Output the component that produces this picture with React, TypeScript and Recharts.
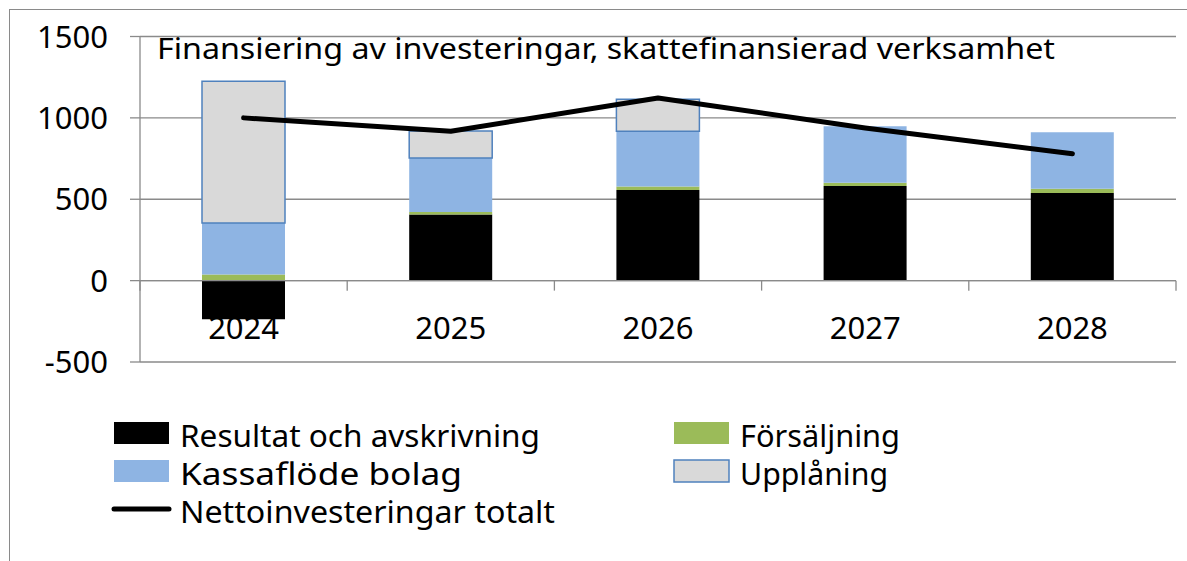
import React from "react";
import {
  ComposedChart,
  Bar,
  Line,
  XAxis,
  YAxis,
  CartesianGrid,
  ReferenceLine,
} from "recharts";

const categories = ["2024", "2025", "2026", "2027", "2028"];
const resultat = [-237, 406, 557, 582, 539];
const forsaljning = [37, 16, 21, 20, 26];
const kassaflode = [317, 331, 340, 347, 347];
const upplaning = [871, 167, 196, 0, 0];
const netto = [1000, 918, 1122, 938, 780];
const yTicks = [-500, 0, 500, 1000, 1500];

const data = categories.map((year, i) => ({
  year,
  resultat: resultat[i],
  forsaljning: forsaljning[i],
  kassaflode: kassaflode[i],
  upplaning: upplaning[i],
  netto: netto[i],
}));

const W = 1187;
const H = 561;
const PLOT_LEFT = 140;
const PLOT_RIGHT = 1176;
const PLOT_TOP = 36.5;
const PLOT_BOTTOM = 362;
const X_AXIS_H = 30;
const BAND = (PLOT_RIGHT - PLOT_LEFT) / categories.length;
const Y_MIN = yTicks[0];
const Y_MAX = yTicks[yTicks.length - 1];
const ZERO_Y = PLOT_TOP + (Y_MAX / (Y_MAX - Y_MIN)) * (PLOT_BOTTOM - PLOT_TOP);

const GRID = "#8a8a8a";
const FONT = "'Noto Sans', sans-serif";

function YearTick(props: any) {
  const { x, index } = props;
  const left = x - BAND / 2;
  const last = index === categories.length - 1;
  return (
    <g>
      <line x1={left} x2={left} y1={ZERO_Y} y2={ZERO_Y + 10} stroke={GRID} strokeWidth={1.3} />
      {last && (
        <line x1={x + BAND / 2} x2={x + BAND / 2} y1={ZERO_Y} y2={ZERO_Y + 10} stroke={GRID} strokeWidth={1.3} />
      )}
      <text x={x} y={ZERO_Y + 58} textAnchor="middle" fontSize={31} fill="#000" fontFamily={FONT}>
        {props.payload.value}
      </text>
    </g>
  );
}

// legend entries: text width matched to the original's narrower font
const legendItems = [
  { name: "Resultat och avskrivning", kind: "box", fill: "#000000", stroke: "none", col: 0, row: 0, len: 360 },
  { name: "Försäljning", kind: "box", fill: "#9BBB59", stroke: "none", col: 1, row: 0, len: 160 },
  { name: "Kassaflöde bolag", kind: "box", fill: "#8EB4E3", stroke: "none", col: 0, row: 1, len: 282 },
  { name: "Upplåning", kind: "box", fill: "#D9D9D9", stroke: "#4F81BD", col: 1, row: 1, len: 148 },
  { name: "Nettoinvesteringar totalt", kind: "line", fill: "#000000", stroke: "#000", col: 0, row: 2, len: 375 },
];

export default function App() {
  return (
    <div style={{ position: "absolute", left: 0, top: 0, width: W, height: H, overflow: "hidden", background: "#fff" }}>
      <div
        style={{
          position: "absolute",
          left: 9,
          top: 9,
          width: W + 20,
          height: H + 20,
          borderLeft: `1.5px solid ${GRID}`,
          borderTop: `1.5px solid ${GRID}`,
        }}
      />
      <div style={{ position: "absolute", left: 0, top: 0 }}>
        <ComposedChart
          width={W}
          height={H}
          data={data}
          stackOffset="sign"
          barSize={83}
          margin={{ top: PLOT_TOP, right: W - PLOT_RIGHT, bottom: H - PLOT_BOTTOM - X_AXIS_H, left: 0 }}
          style={{ fontFamily: FONT }}
        >
          <CartesianGrid vertical={false} stroke={GRID} strokeWidth={1.3} />
          <XAxis
            dataKey="year"
            height={X_AXIS_H}
            axisLine={false}
            tickLine={false}
            interval={0}
            tick={<YearTick />}
          />
          <YAxis
            width={PLOT_LEFT}
            domain={[Y_MIN, Y_MAX]}
            ticks={yTicks}
            interval={0}
            tickSize={10}
            tickMargin={22}
            axisLine={{ stroke: GRID, strokeWidth: 1.3 }}
            tickLine={{ stroke: GRID, strokeWidth: 1.3 }}
            tick={{ fontSize: 31, fill: "#000", fontFamily: FONT }}
          />
          <ReferenceLine y={0} stroke={GRID} strokeWidth={1.3} />
          <Bar dataKey="resultat" stackId="a" fill="#000000" isAnimationActive={false} />
          <Bar dataKey="forsaljning" stackId="a" fill="#9BBB59" isAnimationActive={false} />
          <Bar dataKey="kassaflode" stackId="a" fill="#8EB4E3" isAnimationActive={false} />
          <Bar
            dataKey="upplaning"
            stackId="a"
            fill="#D9D9D9"
            stroke="#4F81BD"
            strokeWidth={1.5}
            isAnimationActive={false}
          />
          <Line
            dataKey="netto"
            type="linear"
            stroke="#000"
            strokeWidth={5}
            strokeLinecap="round"
            strokeLinejoin="round"
            dot={false}
            activeDot={false}
            isAnimationActive={false}
          />
        </ComposedChart>
      </div>
      <svg
        width={W}
        height={H}
        style={{ position: "absolute", left: 0, top: 0, pointerEvents: "none", fontFamily: FONT }}
      >
        <text x={157} y={58.5} fontSize={29.5} fill="#000" textLength={898} lengthAdjust="spacingAndGlyphs">
          Finansiering av investeringar, skattefinansierad verksamhet
        </text>
        {legendItems.map((it) => {
          const sx = it.col === 0 ? 114 : 674;
          const cy = 433 + it.row * 38;
          return (
            <g key={it.name}>
              {it.kind === "box" ? (
                <rect
                  x={sx}
                  y={cy - 11}
                  width={55}
                  height={22}
                  fill={it.fill}
                  stroke={it.stroke}
                  strokeWidth={1.5}
                />
              ) : (
                <line x1={sx} x2={sx + 55} y1={cy} y2={cy} stroke="#000" strokeWidth={5} strokeLinecap="round" />
              )}
              <text
                x={sx + 66}
                y={cy + 13.5}
                fontSize={31}
                fill="#000"
                textLength={it.len}
                lengthAdjust="spacingAndGlyphs"
              >
                {it.name}
              </text>
            </g>
          );
        })}
      </svg>
    </div>
  );
}
